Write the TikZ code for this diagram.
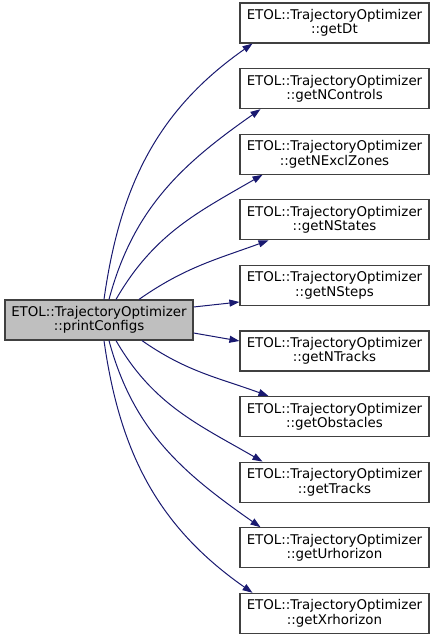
\documentclass[tikz,border=0pt]{standalone}
\usepackage{fontspec}
\setmainfont{DejaVu Sans}
\usepackage{tikz}
\usetikzlibrary{arrows.meta}
\definecolor{CGEdge}{HTML}{191970}
\definecolor{CGBorder}{HTML}{404040}
\definecolor{CGCurrent}{HTML}{BFBFBF}

\begin{document}
\begin{tikzpicture}[
  x=1pt,y=1pt,
  fn/.style={draw=CGBorder,line width=1.2pt,fill=white,minimum width=189pt,minimum height=40pt,inner sep=0pt,align=center,font=\fontsize{13.4}{14.5}\selectfont},
  cur/.style={fn,fill=CGCurrent,minimum width=188pt},
  call/.style={draw=CGEdge,line width=1pt,-{Triangle[length=10pt,width=7pt]}}
]
  \useasboundingbox (0,0) rectangle (432,640);
  \node[cur] (cfg) at (99,320) {ETOL::TrajectoryOptimizer\\::printConfigs};
  \node[fn] (dt) at (334.5,617) {ETOL::TrajectoryOptimizer\\::getDt};
  \node[fn] (ncontrols) at (334.5,551.4) {ETOL::TrajectoryOptimizer\\::getNControls};
  \node[fn] (nexcl) at (334.5,485.8) {ETOL::TrajectoryOptimizer\\::getNExclZones};
  \node[fn] (nstates) at (334.5,420.2) {ETOL::TrajectoryOptimizer\\::getNStates};
  \node[fn] (nsteps) at (334.5,354.6) {ETOL::TrajectoryOptimizer\\::getNSteps};
  \node[fn] (ntracks) at (334.5,289) {ETOL::TrajectoryOptimizer\\::getNTracks};
  \node[fn] (obstacles) at (334.5,223.4) {ETOL::TrajectoryOptimizer\\::getObstacles};
  \node[fn] (tracks) at (334.5,157.8) {ETOL::TrajectoryOptimizer\\::getTracks};
  \node[fn] (urhor) at (334.5,92.2) {ETOL::TrajectoryOptimizer\\::getUrhorizon};
  \node[fn] (xrhor) at (334.5,26.6) {ETOL::TrajectoryOptimizer\\::getXrhorizon};
  % calls above the caller
  \draw[call] ([xshift=5pt]cfg.north) to[out=82,in=215] ([xshift=-82pt]dt.south);
  \draw[call] ([xshift=10pt]cfg.north) to[out=75,in=215] ([xshift=-74pt]ncontrols.south);
  \draw[call] ([xshift=17pt]cfg.north) to[out=60,in=210] ([xshift=-72pt]nexcl.south);
  \draw[call] ([xshift=40pt]cfg.north) to[out=35,in=200] ([xshift=-66pt]nstates.south);
  % calls beside the caller
  \draw[call] ([yshift=13pt]cfg.east) -- ([yshift=-16.6pt]nsteps.west);
  \draw[call] ([yshift=-13pt]cfg.east) -- ([yshift=10pt]ntracks.west);
  % calls below the caller
  \draw[call] ([xshift=43pt]cfg.south) to[out=-35,in=160] ([xshift=-66pt]obstacles.north);
  \draw[call] ([xshift=17pt]cfg.south) to[out=-60,in=150] ([xshift=-72pt]tracks.north);
  \draw[call] ([xshift=10pt]cfg.south) to[out=-75,in=145] ([xshift=-74pt]urhor.north);
  \draw[call] ([xshift=5pt]cfg.south) to[out=-82,in=145] ([xshift=-82pt]xrhor.north);
\end{tikzpicture}
\end{document}
